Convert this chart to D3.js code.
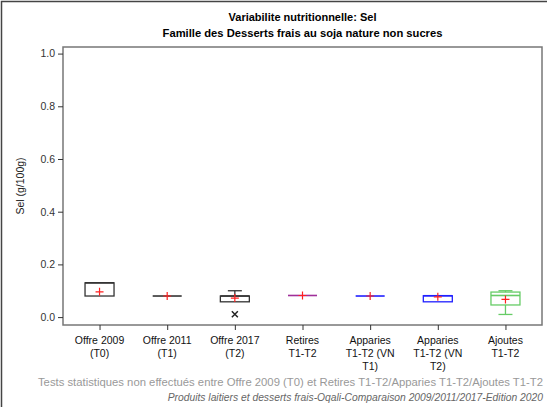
<!DOCTYPE html>
<html>
<head>
<meta charset="utf-8">
<script src="https://cdn.jsdelivr.net/npm/d3@7"></script>
<style>
  body { margin: 0; background: #fff; }
  text { font-family: "Liberation Sans", Arial, sans-serif; }
</style>
</head>
<body>
<div id="chart"></div>
<script>
const categories = [
  ["Offre 2009", "(T0)"],
  ["Offre 2011", "(T1)"],
  ["Offre 2017", "(T2)"],
  ["Retires", "T1-T2"],
  ["Apparies", "T1-T2 (VN", "T1)"],
  ["Apparies", "T1-T2 (VN", "T2)"],
  ["Ajoutes", "T1-T2"]
];
const boxColors = ["#333333", "#333333", "#333333", "#a0309a", "#2020ff", "#2020ff", "#66cc66"];
// whisker low, q1, median, q3, whisker high
const whiskLow = [0.080, 0.080, 0.058, 0.082, 0.080, 0.058, 0.010];
const q1 = [0.080, 0.080, 0.058, 0.082, 0.080, 0.058, 0.046];
const median = [0.130, 0.080, 0.080, 0.082, 0.080, 0.081, 0.082];
const q3 = [0.130, 0.080, 0.080, 0.082, 0.080, 0.081, 0.095];
const whiskHigh = [0.130, 0.080, 0.100, 0.082, 0.080, 0.081, 0.100];
const means = [0.096, 0.080, 0.072, 0.082, 0.080, 0.077, 0.067];
const outliers = [[], [], [0.011], [], [], [], []];
const yTicks = [0.0, 0.2, 0.4, 0.6, 0.8, 1.0];

const W = 547, H = 407;
const plot = { left: 63, right: 542, top: 47, bottom: 325 };

const svg = d3.select("#chart").append("svg")
  .attr("width", W).attr("height", H);

// outer frame (left and top edges visible)
svg.append("path")
  .attr("d", `M1.5,${H} L1.5,1.5 L${W},1.5`)
  .attr("fill", "none").attr("stroke", "#444").attr("stroke-width", 1.5);

const x = d3.scalePoint()
  .domain(d3.range(categories.length))
  .range([plot.left, plot.right])
  .padding(0.54);

const y = d3.scaleLinear()
  .domain([-0.03, 1.025])
  .range([plot.bottom, plot.top]);

const midX = (plot.left + plot.right) / 2;

// titles
svg.append("text").attr("x", midX).attr("y", 21)
  .attr("text-anchor", "middle").style("font-size", "11px").style("font-weight", "bold")
  .text("Variabilite nutritionnelle: Sel");
svg.append("text").attr("x", midX).attr("y", 37)
  .attr("text-anchor", "middle").style("font-size", "11.2px").style("font-weight", "bold")
  .text("Famille des Desserts frais au soja nature non sucres");

// plot frame
svg.append("rect")
  .attr("x", plot.left).attr("y", plot.top)
  .attr("width", plot.right - plot.left).attr("height", plot.bottom - plot.top)
  .attr("fill", "none").attr("stroke", "#777").attr("stroke-width", 1.5);

// y axis
const yAxis = svg.append("g")
  .attr("transform", `translate(${plot.left},0)`)
  .call(d3.axisLeft(y).tickValues(yTicks).tickFormat(d3.format(".1f")).tickSize(5).tickPadding(3));
yAxis.select(".domain").remove();
yAxis.selectAll("line").attr("stroke", "#333");
yAxis.selectAll("text").style("font-size", "10.5px").attr("fill", "#333")
  .style("font-family", "'Liberation Sans', Arial, sans-serif");

svg.append("text")
  .attr("transform", `translate(24,${(plot.top + plot.bottom) / 2}) rotate(-90)`)
  .attr("text-anchor", "middle").style("font-size", "10.5px").attr("fill", "#222")
  .text("Sel (g/100g)");

// x axis
const xAxis = svg.append("g")
  .attr("transform", `translate(0,${plot.bottom})`)
  .call(d3.axisBottom(x).tickSize(5).tickFormat(""));
xAxis.select(".domain").remove();
xAxis.selectAll("line").attr("stroke", "#333");

categories.forEach((lines, i) => {
  const t = svg.append("text").attr("x", x(i)).attr("y", 344)
    .attr("text-anchor", "middle").style("font-size", "10.5px").attr("fill", "#111");
  lines.forEach((l, j) => t.append("tspan").attr("x", x(i)).attr("dy", j === 0 ? 0 : 13).text(l));
});

// boxes
const boxW = 29, capW = 14, cross = 4;
categories.forEach((c, i) => {
  const cx = x(i), col = boxColors[i];
  const g = svg.append("g").attr("stroke", col).attr("fill", "none").attr("stroke-width", 1.3);
  // whiskers
  if (whiskHigh[i] > q3[i]) {
    g.append("line").attr("x1", cx).attr("x2", cx).attr("y1", y(q3[i])).attr("y2", y(whiskHigh[i]));
    g.append("line").attr("x1", cx - capW / 2).attr("x2", cx + capW / 2).attr("y1", y(whiskHigh[i])).attr("y2", y(whiskHigh[i]));
  }
  if (whiskLow[i] < q1[i]) {
    g.append("line").attr("x1", cx).attr("x2", cx).attr("y1", y(q1[i])).attr("y2", y(whiskLow[i]));
    g.append("line").attr("x1", cx - capW / 2).attr("x2", cx + capW / 2).attr("y1", y(whiskLow[i])).attr("y2", y(whiskLow[i]));
  }
  // box
  g.append("rect").attr("x", cx - boxW / 2).attr("y", y(q3[i]))
    .attr("width", boxW).attr("height", Math.max(0, y(q1[i]) - y(q3[i])));
  g.append("line").attr("x1", cx - boxW / 2).attr("x2", cx + boxW / 2)
    .attr("y1", y(median[i])).attr("y2", y(median[i])).attr("stroke-width", 1.6);
  // mean
  const my = y(means[i]);
  svg.append("path")
    .attr("d", `M${cx - cross},${my} L${cx + cross},${my} M${cx},${my - cross} L${cx},${my + cross}`)
    .attr("stroke", "#ff2020").attr("stroke-width", 1.2).attr("fill", "none");
  // outliers
  outliers[i].forEach(o => {
    const oy = y(o);
    svg.append("path")
      .attr("d", `M${cx - 3},${oy - 3} L${cx + 3},${oy + 3} M${cx - 3},${oy + 3} L${cx + 3},${oy - 3}`)
      .attr("stroke", "#222").attr("stroke-width", 1.5);
  });
});

// footer
svg.append("text").attr("x", 543).attr("y", 386).attr("text-anchor", "end")
  .style("font-size", "11.3px").attr("fill", "#999")
  .text("Tests statistiques non effectués entre Offre 2009 (T0) et Retires T1-T2/Apparies T1-T2/Ajoutes T1-T2");
svg.append("text").attr("x", 543).attr("y", 401).attr("text-anchor", "end")
  .style("font-size", "10.3px").style("font-style", "italic").attr("fill", "#666")
  .text("Produits laitiers et desserts frais-Oqali-Comparaison 2009/2011/2017-Edition 2020");
</script>
</body>
</html>
